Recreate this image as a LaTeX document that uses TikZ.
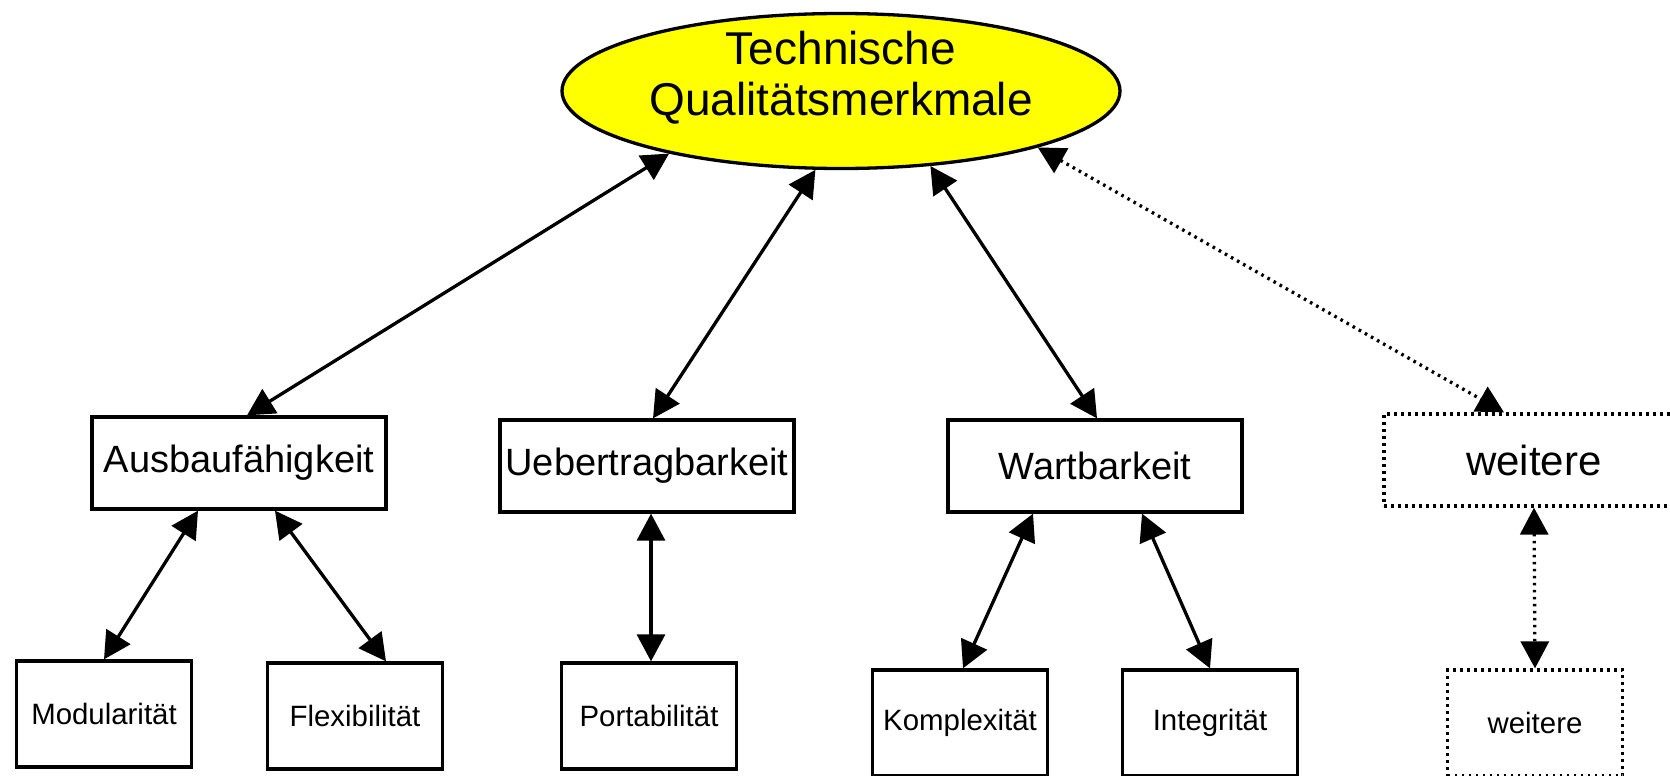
\documentclass[tikz,border=0pt]{standalone}
\usepackage{fontspec}
\setmainfont{Liberation Sans}
\usetikzlibrary{arrows.meta,shapes.geometric}
\definecolor{qmgelb}{RGB}{255,255,0}
\tikzset{
  crit/.style={draw, line width=1.65pt, minimum width=147pt, minimum height=46pt, inner sep=0pt, font=\fontsize{19}{22}\selectfont},
  subcrit/.style={draw, line width=1.65pt, minimum width=87.5pt, minimum height=53pt, inner sep=0pt, font=\fontsize{14.7}{17}\selectfont},
  vague/.style={dash pattern=on 1.3pt off 2.2pt},
  link/.style={line width=1.65pt, {Triangle[length=13.5pt,width=14pt]}-{Triangle[length=13.5pt,width=14pt]}}
}
\begin{document}
\begin{tikzpicture}[x=0.5pt, y=-0.5pt]
                \useasboundingbox (0, 0) rectangle (1670, 776);
                \node[ellipse, draw, line width=1.65pt, fill=qmgelb, minimum width=279pt, minimum height=77.5pt, inner sep=0pt, font=\fontsize{23}{25.5}\selectfont] (tq) at (841, 91)
                    {\raisebox{13.5pt}[0pt][0pt]{\begin{tabular}[t]{@{}c@{}}Technische\\Qualitätsmerkmale\end{tabular}}};
                \node[crit] (ausbau) at (239, 463) {Ausbaufähigkeit};
                \node[crit] (uebertrag) at (647, 466) {Uebertragbarkeit};
                \node[crit] (wartbar) at (1095, 466) {Wartbarkeit};
                \node[crit, vague, minimum width=150pt, font=\fontsize{21}{24}\selectfont] (weiter) at (1534, 460) {weitere};
                \node[subcrit] (modul) at (104, 714) {Modularität};
                \node[subcrit] (flexi) at (355, 716) {Flexibilität};
                \node[subcrit] (porta) at (649, 716) {Portabilität};
                \node[subcrit] (komplex) at (960, 723) {Komplexität};
                \node[subcrit] (integ) at (1210, 723) {Integrität};
                \node[subcrit, vague] (weiterklein) at (1535, 723) {weitere};
                \draw[link] (tq.200) -- ([xshift=4pt]ausbau.north);
                \draw[link] (tq.252) -- ([xshift=3pt]uebertrag.north);
                \draw[link] (tq.320) -- ([xshift=1pt]wartbar.north);
                \draw[link, vague] (tq.344) -- ([xshift=-15pt]weiter.north);
                \draw[link] ([xshift=-20.5pt]ausbau.south) -- (modul.north);
                \draw[link] ([xshift=18pt]ausbau.south) -- ([xshift=15.5pt]flexi.north);
                \draw[link] ([xshift=2pt]uebertrag.south) -- ([xshift=1pt]porta.north);
                \draw[link] ([xshift=-31pt]wartbar.south) -- ([xshift=1.5pt]komplex.north);
                \draw[link] ([xshift=23.5pt]wartbar.south) -- (integ.north);
                \draw[link, vague] (weiter.south) -- (weiterklein.north);
            \end{tikzpicture}
\end{document}
